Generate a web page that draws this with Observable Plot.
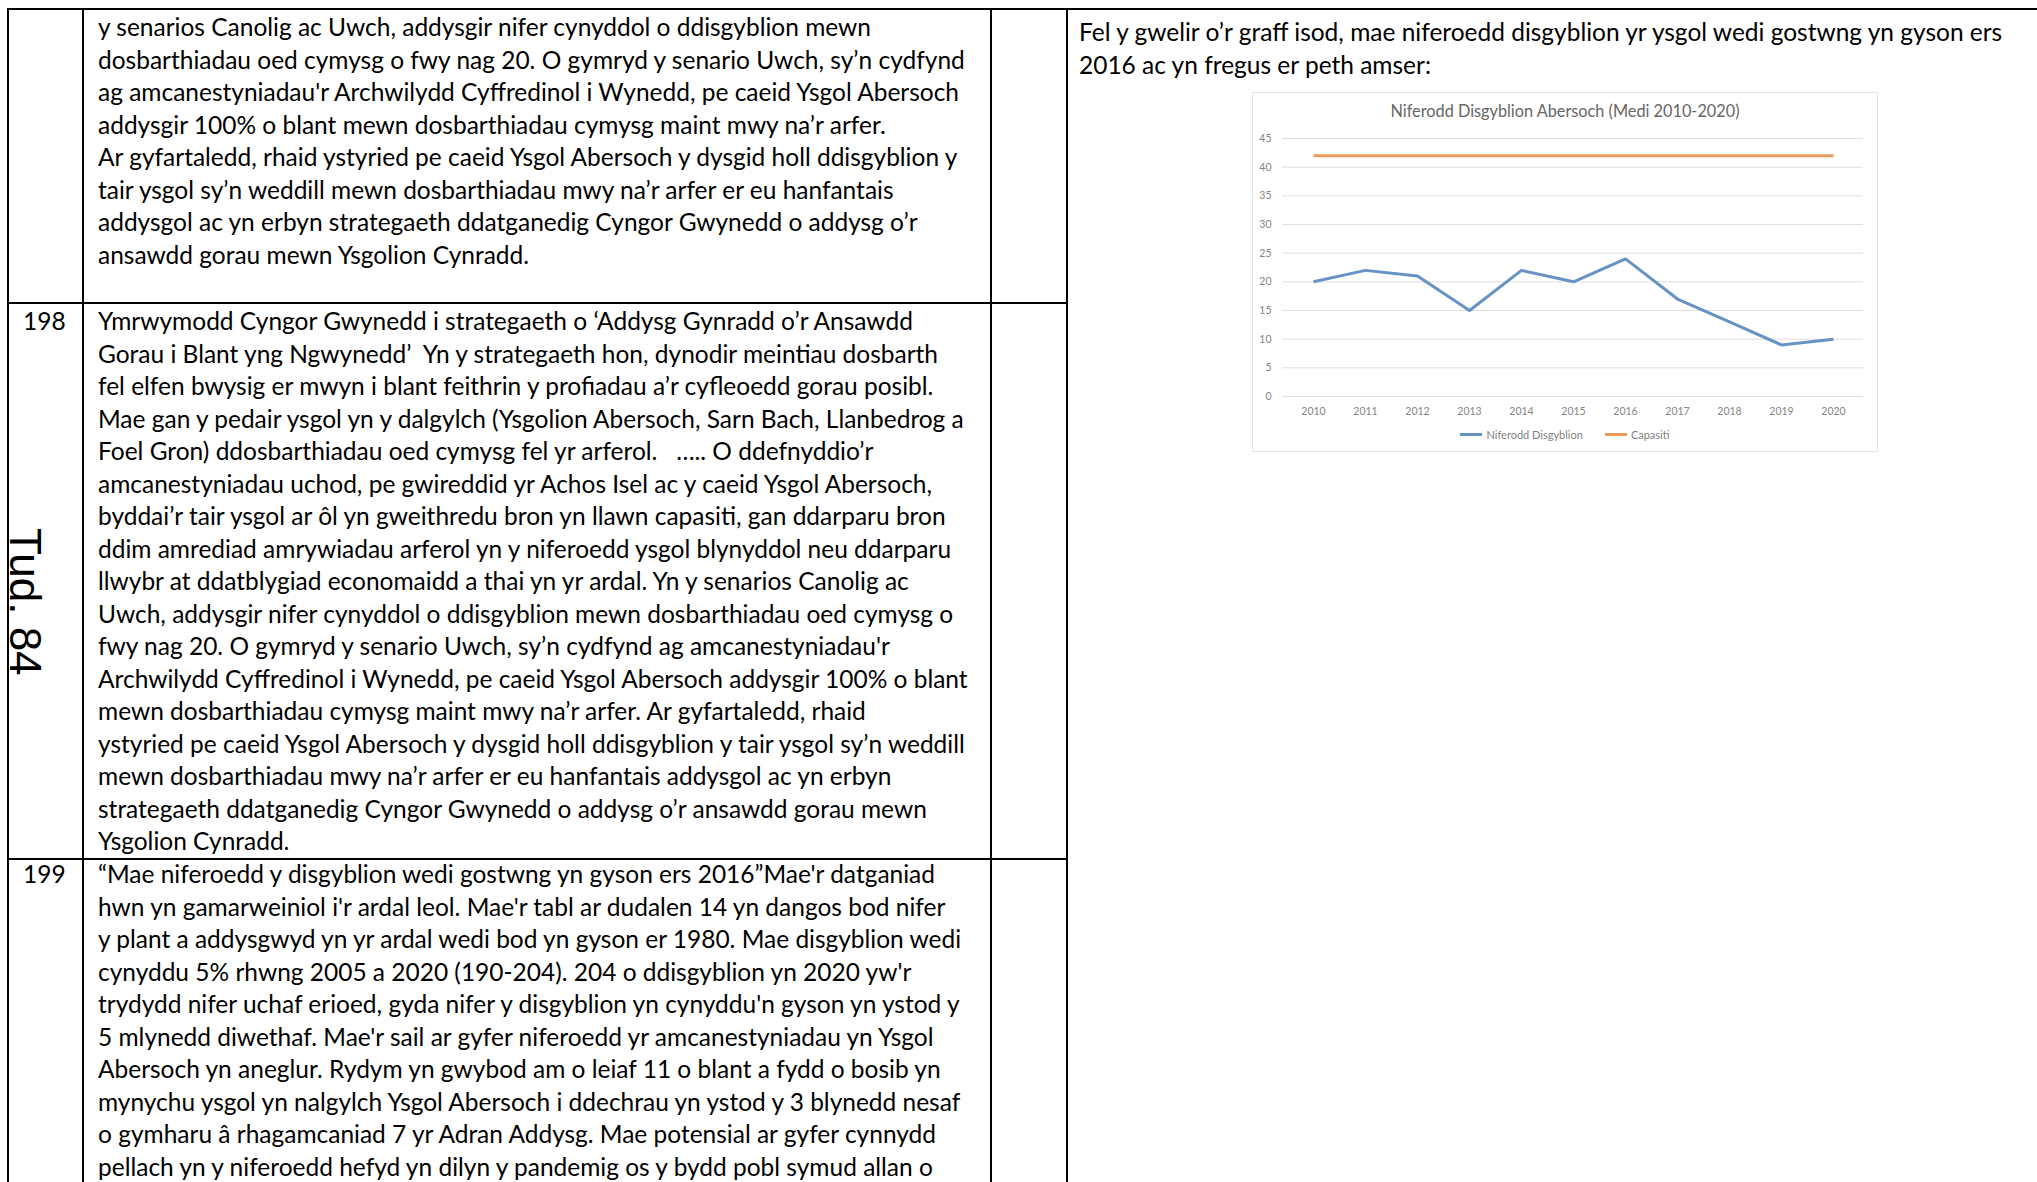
<!DOCTYPE html>
<html>
<head>
<meta charset="utf-8">
<script src="https://cdn.jsdelivr.net/npm/d3@7"></script>
<script src="https://cdn.jsdelivr.net/npm/@observablehq/plot@0.6"></script>
<style>
html,body{margin:0;padding:0;background:#fff;}
body{width:2037px;height:1182px;position:relative;overflow:hidden;}
#doc{position:absolute;left:0;top:0;}
#chartbox{position:absolute;left:1252px;top:92px;width:626px;height:360px;background:#fff;}
#chartbox svg{position:absolute;left:0;top:0;}
#chartborder{position:absolute;left:0;top:0;width:626px;height:360px;box-sizing:border-box;border:1px solid #e4e4e4;pointer-events:none;}
#ctitle{position:absolute;left:0;top:9px;width:626px;text-align:center;font-family:Lato,sans-serif;font-size:16.3px;color:#666;}
#clegend{position:absolute;left:0;top:336px;width:626px;display:flex;justify-content:center;align-items:center;font-family:Lato,sans-serif;font-size:11px;color:#7f7f7f;}
.sw{display:inline-block;width:22px;height:3px;margin-right:4px;}
.li{display:flex;align-items:center;margin:0 11px;}
</style>
</head>
<body>
<div id="doc"></div>
<div id="chartbox"><div id="ctitle"></div><div id="clegend"></div><div id="chartborder"></div></div>
<script>
// ---------- chart data ----------
const chartTitle = "Niferodd Disgyblion Abersoch (Medi 2010-2020)";
const years = ["2010","2011","2012","2013","2014","2015","2016","2017","2018","2019","2020"];
const pupils = [20, 22, 21, 15, 22, 20, 24, 17, 13, 9, 10];
const capacity = [42, 42, 42, 42, 42, 42, 42, 42, 42, 42, 42];
const seriesNames = ["Niferodd Disgyblion", "Capasiti"];
const seriesColors = ["#6792c4", "#ec9a5c"];
const yTicks = [0, 5, 10, 15, 20, 25, 30, 35, 40, 45];

// ---------- document text ----------
const rowNumbers = ["198", "199"];
const topRowLines = [
  "y senarios Canolig ac Uwch, addysgir nifer cynyddol o ddisgyblion mewn",
  "dosbarthiadau oed cymysg o fwy nag 20. O gymryd y senario Uwch, sy’n cydfynd",
  "ag amcanestyniadau'r Archwilydd Cyffredinol i Wynedd, pe caeid Ysgol Abersoch",
  "addysgir 100% o blant mewn dosbarthiadau cymysg maint mwy na’r arfer.",
  "Ar gyfartaledd, rhaid ystyried pe caeid Ysgol Abersoch y dysgid holl ddisgyblion y",
  "tair ysgol sy’n weddill mewn dosbarthiadau mwy na’r arfer er eu hanfantais",
  "addysgol ac yn erbyn strategaeth ddatganedig Cyngor Gwynedd o addysg o’r",
  "ansawdd gorau mewn Ysgolion Cynradd."
];
const row198Lines = [
  "Ymrwymodd Cyngor Gwynedd i strategaeth o ‘Addysg Gynradd o’r Ansawdd",
  "Gorau i Blant yng Ngwynedd’  Yn y strategaeth hon, dynodir meintiau dosbarth",
  "fel elfen bwysig er mwyn i blant feithrin y profiadau a’r cyfleoedd gorau posibl.",
  "Mae gan y pedair ysgol yn y dalgylch (Ysgolion Abersoch, Sarn Bach, Llanbedrog a",
  "Foel Gron) ddosbarthiadau oed cymysg fel yr arferol.   ….. O ddefnyddio’r",
  "amcanestyniadau uchod, pe gwireddid yr Achos Isel ac y caeid Ysgol Abersoch,",
  "byddai’r tair ysgol ar ôl yn gweithredu bron yn llawn capasiti, gan ddarparu bron",
  "ddim amrediad amrywiadau arferol yn y niferoedd ysgol blynyddol neu ddarparu",
  "llwybr at ddatblygiad economaidd a thai yn yr ardal. Yn y senarios Canolig ac",
  "Uwch, addysgir nifer cynyddol o ddisgyblion mewn dosbarthiadau oed cymysg o",
  "fwy nag 20. O gymryd y senario Uwch, sy’n cydfynd ag amcanestyniadau'r",
  "Archwilydd Cyffredinol i Wynedd, pe caeid Ysgol Abersoch addysgir 100% o blant",
  "mewn dosbarthiadau cymysg maint mwy na’r arfer. Ar gyfartaledd, rhaid",
  "ystyried pe caeid Ysgol Abersoch y dysgid holl ddisgyblion y tair ysgol sy’n weddill",
  "mewn dosbarthiadau mwy na’r arfer er eu hanfantais addysgol ac yn erbyn",
  "strategaeth ddatganedig Cyngor Gwynedd o addysg o’r ansawdd gorau mewn",
  "Ysgolion Cynradd."
];
const row199Lines = [
  "“Mae niferoedd y disgyblion wedi gostwng yn gyson ers 2016”Mae'r datganiad",
  "hwn yn gamarweiniol i'r ardal leol. Mae'r tabl ar dudalen 14 yn dangos bod nifer",
  "y plant a addysgwyd yn yr ardal wedi bod yn gyson er 1980. Mae disgyblion wedi",
  "cynyddu 5% rhwng 2005 a 2020 (190-204). 204 o ddisgyblion yn 2020 yw'r",
  "trydydd nifer uchaf erioed, gyda nifer y disgyblion yn cynyddu'n gyson yn ystod y",
  "5 mlynedd diwethaf. Mae'r sail ar gyfer niferoedd yr amcanestyniadau yn Ysgol",
  "Abersoch yn aneglur. Rydym yn gwybod am o leiaf 11 o blant a fydd o bosib yn",
  "mynychu ysgol yn nalgylch Ysgol Abersoch i ddechrau yn ystod y 3 blynedd nesaf",
  "o gymharu â rhagamcaniad 7 yr Adran Addysg. Mae potensial ar gyfer cynnydd",
  "pellach yn y niferoedd hefyd yn dilyn y pandemig os y bydd pobl symud allan o"
];
const rightLines = [
  "Fel y gwelir o’r graff isod, mae niferoedd disgyblion yr ysgol wedi gostwng yn gyson ers",
  "2016 ac yn fregus er peth amser:"
];
const pageLabel = "Tud. 84";

// ---------- fit body font size ----------
const bodyFont = "Lato";
const ctx = document.createElement("canvas").getContext("2d");
ctx.font = `100px ${bodyFont}`;
const w1 = ctx.measureText(rightLines[0]).width;
const w2 = ctx.measureText(row198Lines[3]).width;
const fs = ((923 / w1) * 100 + (877 / w2) * 100) / 2;

// ---------- document (table) ----------
const W = 2037, H = 1182;
const doc = d3.select("#doc").append("svg").attr("width", W).attr("height", H)
  .attr("font-family", bodyFont).attr("font-size", fs).attr("fill", "#000");
const lg = doc.append("g").attr("stroke", "#000").attr("stroke-width", 2.4).attr("shape-rendering", "crispEdges");
lg.append("line").attr("x1", 7).attr("x2", W).attr("y1", 9).attr("y2", 9);
[8, 83, 991, 1067].forEach(x => lg.append("line").attr("x1", x).attr("x2", x).attr("y1", 8).attr("y2", H));
[303, 859].forEach(y => lg.append("line").attr("x1", 7).attr("x2", 1068).attr("y1", y).attr("y2", y));

const LH = 32.5;
function block(lines, x, y0) {
  lines.forEach((t, i) => doc.append("text").attr("x", x).attr("y", y0 + i * LH)
    .attr("xml:space", "preserve").style("white-space", "pre").text(t));
}
block(topRowLines, 98, 36);
block(row198Lines, 98, 330);
block(row199Lines, 98, 883);
block(rightLines, 1079, 41);
doc.append("text").attr("x", 23).attr("y", 330).text(rowNumbers[0]);
doc.append("text").attr("x", 23).attr("y", 883).text(rowNumbers[1]);
doc.append("text").attr("transform", "translate(10,528) rotate(90)")
  .attr("font-family", "Liberation Sans").attr("font-size", 44).text(pageLabel);

// ---------- chart ----------
const rows = [];
years.forEach((yr, i) => rows.push({year: yr, value: pupils[i], series: seriesNames[0]}));
years.forEach((yr, i) => rows.push({year: yr, value: capacity[i], series: seriesNames[1]}));

const chart = Plot.plot({
  width: 626, height: 360,
  marginLeft: 30, marginRight: 15, marginTop: 46, marginBottom: 56,
  x: {type: "point", domain: years, padding: 0.5, label: null},
  y: {domain: [0, 45], label: null},
  color: {domain: seriesNames, range: seriesColors},
  style: {fontFamily: "Lato, sans-serif", fontSize: "10.5px", color: "#858585", background: "transparent", overflow: "visible"},
  marks: [
    Plot.gridY(yTicks, {stroke: "#dedede", strokeOpacity: 1, strokeWidth: 1}),
    Plot.axisY(yTicks, {tickSize: 0, tickPadding: 11, fill: "#858585"}),
    Plot.axisX({tickSize: 0, tickPadding: 11, fill: "#858585"}),
    Plot.line(rows, {x: "year", y: "value", z: "series", stroke: "series", strokeWidth: 3, strokeLinejoin: "round", strokeLinecap: "butt"})
  ]
});
document.getElementById("chartbox").insertBefore(chart, document.getElementById("ctitle"));
document.getElementById("ctitle").textContent = chartTitle;
const leg = d3.select("#clegend");
seriesNames.forEach((n, i) => {
  const it = leg.append("span").attr("class", "li");
  it.append("span").attr("class", "sw").style("background", seriesColors[i]);
  it.append("span").text(n);
});
</script>
</body>
</html>
